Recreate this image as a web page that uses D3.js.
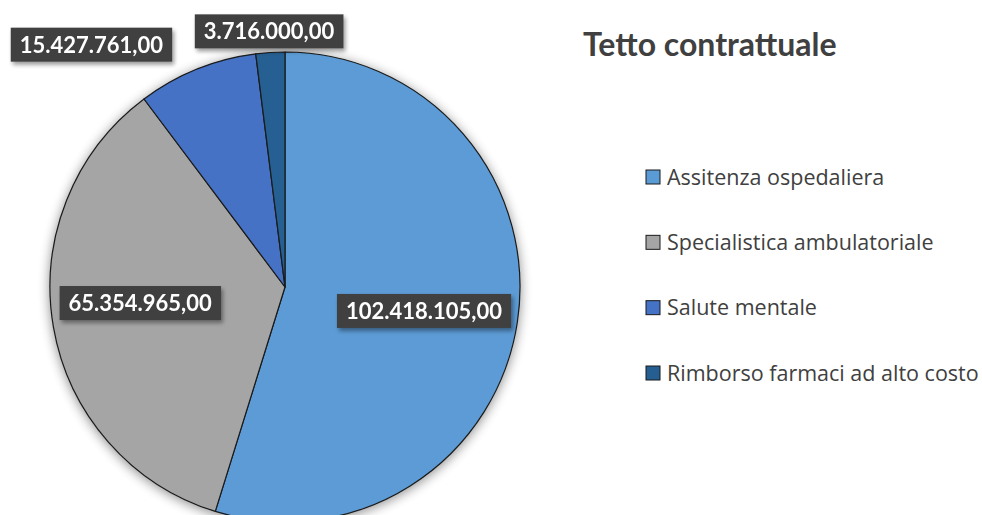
<!DOCTYPE html>
<html>
<head>
<meta charset="utf-8">
<script src="https://cdn.jsdelivr.net/npm/d3@7"></script>
<style>
  body { margin: 0; background: #fff; }
  svg text { font-family: Lato, "Open Sans", sans-serif; }
</style>
</head>
<body>
<div id="chart-area"></div>
<script>
// data
var categories = ["Assitenza ospedaliera", "Specialistica ambulatoriale", "Salute mentale", "Rimborso farmaci ad alto costo"];
var values = [102418105, 65354965, 15427761, 3716000];
var labels = ["102.418.105,00", "65.354.965,00", "15.427.761,00", "3.716.000,00"];
var colors = ["#5B9BD5", "#A5A5A5", "#4472C4", "#255E91"];

var width = 982, height = 515;
var cx = 285, cy = 287, radius = 235;

var svg = d3.select("#chart-area")
  .append("svg")
    .attr("width", width)
    .attr("height", height);

var defs = svg.append("defs");
var f = defs.append("filter").attr("id", "shadow")
  .attr("x", "-20%").attr("y", "-20%").attr("width", "140%").attr("height", "140%");
f.append("feGaussianBlur").attr("in", "SourceAlpha").attr("stdDeviation", 6);
f.append("feOffset").attr("dx", 0).attr("dy", 2).attr("result", "b");
f.append("feComponentTransfer").append("feFuncA").attr("type", "linear").attr("slope", 0.45);
var m = f.append("feMerge");
m.append("feMergeNode");
m.append("feMergeNode").attr("in", "SourceGraphic");

var f2 = defs.append("filter").attr("id", "lshadow")
  .attr("x", "-20%").attr("y", "-30%").attr("width", "140%").attr("height", "170%");
f2.append("feGaussianBlur").attr("in", "SourceAlpha").attr("stdDeviation", 2);
f2.append("feOffset").attr("dx", 2).attr("dy", 3);
f2.append("feComponentTransfer").append("feFuncA").attr("type", "linear").attr("slope", 0.4);
var m2 = f2.append("feMerge");
m2.append("feMergeNode");
m2.append("feMergeNode").attr("in", "SourceGraphic");

var color = d3.scaleOrdinal().domain(categories).range(colors);

var pie = d3.pie().sort(null).value(function(d){ return d.value; });
var data = categories.map(function(c, i){ return { name: c, value: values[i], label: labels[i] }; });
var arcs = pie(data);

var arc = d3.arc().innerRadius(0).outerRadius(radius);

var g = svg.append("g").attr("transform", "translate(" + cx + "," + cy + ")");

g.append("g").attr("filter", "url(#shadow)")
  .selectAll("path")
  .data(arcs)
  .enter()
  .append("path")
    .attr("d", arc)
    .attr("fill", function(d){ return color(d.data.name); })
    .attr("stroke", "#1a1a1a")
    .attr("stroke-width", 1.2)
    .attr("stroke-linejoin", "round");

// label placement: radius factor + small angle nudge (excel style)
var labelR = [0.6, 0.62, 1.32, 1.09];
var labelAng = [0.02, 0.061, -0.29, 0];
var lg = g.selectAll(".lab")
  .data(arcs)
  .enter()
  .append("g")
    .attr("class", "lab")
    .attr("filter", "url(#lshadow)")
    .attr("transform", function(d, i){
      var a = (d.startAngle + d.endAngle) / 2 + labelAng[i];
      var r = radius * labelR[i];
      return "translate(" + (r * Math.sin(a)) + "," + (-r * Math.cos(a)) + ")";
    });

lg.append("text")
  .attr("text-anchor", "middle")
  .attr("dy", "0.36em")
  .attr("font-size", "22px")
  .attr("font-weight", "bold")
  .attr("fill", "#fff")
  .text(function(d){ return d.data.label; });

lg.each(function(){
  var grp = d3.select(this);
  var bb = grp.select("text").node().getBBox();
  grp.insert("rect", "text")
    .attr("x", bb.x - 9)
    .attr("y", -17)
    .attr("width", bb.width + 18)
    .attr("height", 34)
    .attr("fill", "#404040");
});

// title
svg.append("text")
  .attr("x", 583)
  .attr("y", 56)
  .attr("font-size", "32px")
  .attr("font-weight", "bold")
  .attr("fill", "#404040")
  .text("Tetto contrattuale");

// legend
var legY = d3.scalePoint().domain(categories).range([177, 373]);
var leg = svg.selectAll(".legend")
  .data(categories)
  .enter()
  .append("g")
    .attr("class", "legend")
    .attr("transform", function(d){ return "translate(646," + legY(d) + ")"; });

leg.append("rect")
  .attr("x", 0)
  .attr("y", -7)
  .attr("width", 14)
  .attr("height", 14)
  .attr("fill", function(d){ return color(d); })
  .attr("stroke", "#1a1a1a")
  .attr("stroke-width", 1);

leg.append("text")
  .attr("x", 21)
  .attr("dy", "0.35em")
  .attr("font-size", "21.5px")
  .attr("fill", "#404040")
  .style("font-family", "'Open Sans', sans-serif")
  .text(function(d){ return d; });
</script>
</body>
</html>
